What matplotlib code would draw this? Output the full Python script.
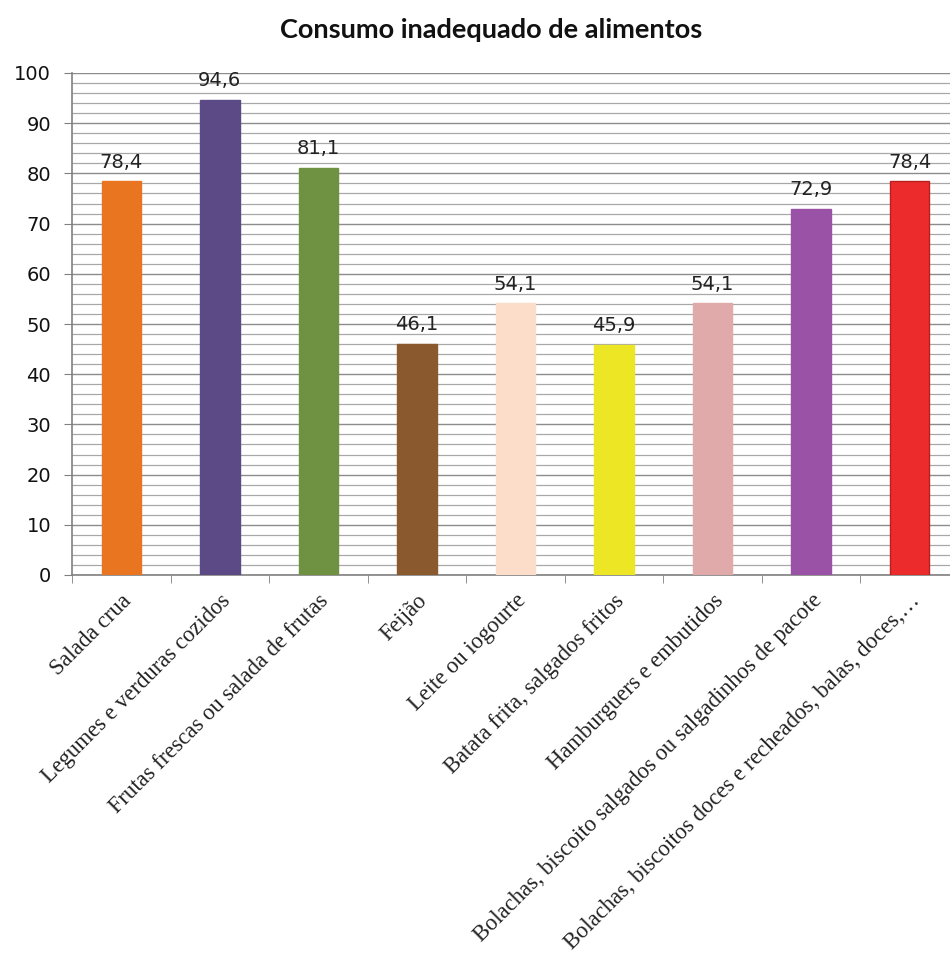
import matplotlib
matplotlib.use("Agg")
import matplotlib.pyplot as plt
from matplotlib.ticker import MultipleLocator, FixedLocator
import numpy as np

categories = [
    "Salada crua",
    "Legumes e verduras cozidos",
    "Frutas frescas ou salada de frutas",
    "Feijão",
    "Leite ou iogourte",
    "Batata frita, salgados fritos",
    "Hamburguers e embutidos",
    "Bolachas, biscoito salgados ou salgadinhos de pacote",
    "Bolachas, biscoitos doces e recheados, balas, doces,…",
]
values = [78.4, 94.6, 81.1, 46.1, 54.1, 45.9, 54.1, 72.9, 78.4]
value_labels = ["78,4", "94,6", "81,1", "46,1", "54,1", "45,9", "54,1", "72,9", "78,4"]
colors = ["#E97520", "#5B4A86", "#6E9142", "#8A5A2E", "#FCDDCA",
          "#EDE624", "#E0AAAA", "#9A52A6", "#EC2C2C"]
edgecolors = ["#E97520", "#5B4A86", "#6E9142", "#8A5A2E", "#FCDDCA",
              "#EDE624", "#E0AAAA", "#9A52A6", "#B82020"]
title = "Consumo inadequado de alimentos"

W, H = 950, 960
fig = plt.figure(figsize=(W / 100, H / 100), dpi=100)
left, right, bottom, top = 72, 959, 575, 73
ax = fig.add_axes([left / W, (H - bottom) / H, (right - left) / W, (bottom - top) / H])

x = np.arange(len(categories))
ax.bar(x, values, width=0.4, color=colors, edgecolor=edgecolors, linewidth=1, zorder=3)

for xi, v, lab in zip(x, values, value_labels):
    ax.annotate(lab, (xi, v), xytext=(0, 10), textcoords="offset points",
                ha="center", va="baseline", fontsize=14, family="DejaVu Sans",
                color="#222222")

ax.set_xlim(-0.5, len(categories) - 0.5)
ax.set_ylim(0, 100)
ax.yaxis.set_major_locator(MultipleLocator(10))
ax.yaxis.set_minor_locator(MultipleLocator(2))
ax.grid(which="major", axis="y", color="#8C8C8C", linewidth=1.0, zorder=0)
ax.grid(which="minor", axis="y", color="#A8A8A8", linewidth=0.9, zorder=0)
ax.tick_params(axis="y", which="major", length=6, color="#808080", labelsize=14,
               pad=9, labelcolor="#111111")
ax.tick_params(axis="y", which="minor", length=0)

ax.set_xticks(x)
ax.set_xticklabels(categories, rotation=45, ha="right", rotation_mode="anchor",
                   fontsize=16.3, family="Liberation Serif", color="#222222")
ax.tick_params(axis="x", which="major", length=0, pad=11)
ax.xaxis.set_minor_locator(FixedLocator(np.arange(-0.5, len(categories), 1.0)))
ax.tick_params(axis="x", which="minor", length=6, color="#808080")

for s in ["top", "right"]:
    ax.spines[s].set_visible(False)
for s in ["left", "bottom"]:
    ax.spines[s].set_color("#808080")
    ax.spines[s].set_linewidth(1.2)

fig.text(491 / W, 1 - 30 / H, title, ha="center", va="center",
         fontsize=19.5, family="Lato", fontweight="bold", color="#111111")

fig.savefig("out.png", dpi=100, facecolor="white")
